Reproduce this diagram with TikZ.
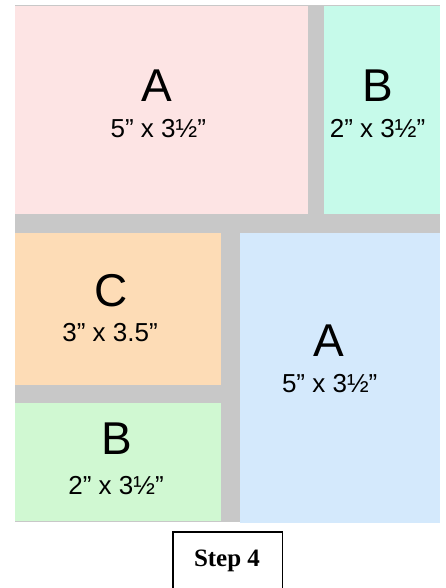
\documentclass[tikz,border=0pt]{standalone}
\usepackage{fontspec}
\setmainfont{Liberation Sans}
\newfontfamily\stepfont{Liberation Serif}
\definecolor{gutter}{RGB}{200,200,200}
\definecolor{pinkA}{RGB}{253,228,228}
\definecolor{mintB}{RGB}{198,250,234}
\definecolor{orangeC}{RGB}{253,220,182}
\definecolor{blueA}{RGB}{212,233,252}
\definecolor{greenB}{RGB}{208,248,210}
\begin{document}
\begin{tikzpicture}[x=1pt,y=-1pt,
  piece/.style={inner sep=0pt, outer sep=0pt, anchor=north west},
  letter/.style={anchor=base, inner sep=0pt, font=\fontsize{46}{46}\selectfont},
  size/.style={anchor=base, inner sep=0pt, font=\fontsize{26}{26}\selectfont},
  steplabel/.style={anchor=base, inner sep=0pt, font=\stepfont\bfseries\fontsize{25}{25}\selectfont},
  frame/.style={draw=black, line width=1.6pt}
]
\useasboundingbox (0,0) rectangle (446,588);
\fill[white] (0,0) rectangle (446,588);
% gutters
\fill[gutter] (15,5) rectangle (440,522);
% pieces
\node[piece, fill=pinkA, minimum width=293pt, minimum height=208pt] (pA) at (15,6) {};
\node[piece, fill=mintB, minimum width=116pt, minimum height=208pt] (pB) at (324,6) {};
\node[piece, fill=orangeC, minimum width=206pt, minimum height=152pt] (pC) at (15,233) {};
\node[piece, fill=greenB, minimum width=206pt, minimum height=118pt] (pB2) at (15,403) {};
\node[piece, fill=blueA, minimum width=200pt, minimum height=290pt] (pA2) at (240,233) {};
% labels
\node[letter] (lA) at (157,101.7) {A};
\node[size] (sA) at (158.3,137.5) {5” x 3½”};
\node[letter] (lB) at (377.7,101.7) {B};
\node[size] (sB) at (377.5,137.7) {2” x 3½”};
\node[letter] (lC) at (110.8,306) {C};
\node[size] (sC) at (110,341.7) {3” x 3.5”};
\node[letter] (lA2) at (329.3,356) {A};
\node[size] (sA2) at (329.7,392.7) {5” x 3½”};
\node[letter] (lB2) at (116.7,454.3) {B};
\node[size] (sB2) at (116,494) {2” x 3½”};
% step box
\node[steplabel] (step) at (227,566.7) {Step 4};
\coordinate (bl) at (172.7,592);
\coordinate (br) at (282.3,592);
\draw[frame] (bl) -- (172.7,531.7) -- (282.3,531.7) -- (br);
\end{tikzpicture}
\end{document}
